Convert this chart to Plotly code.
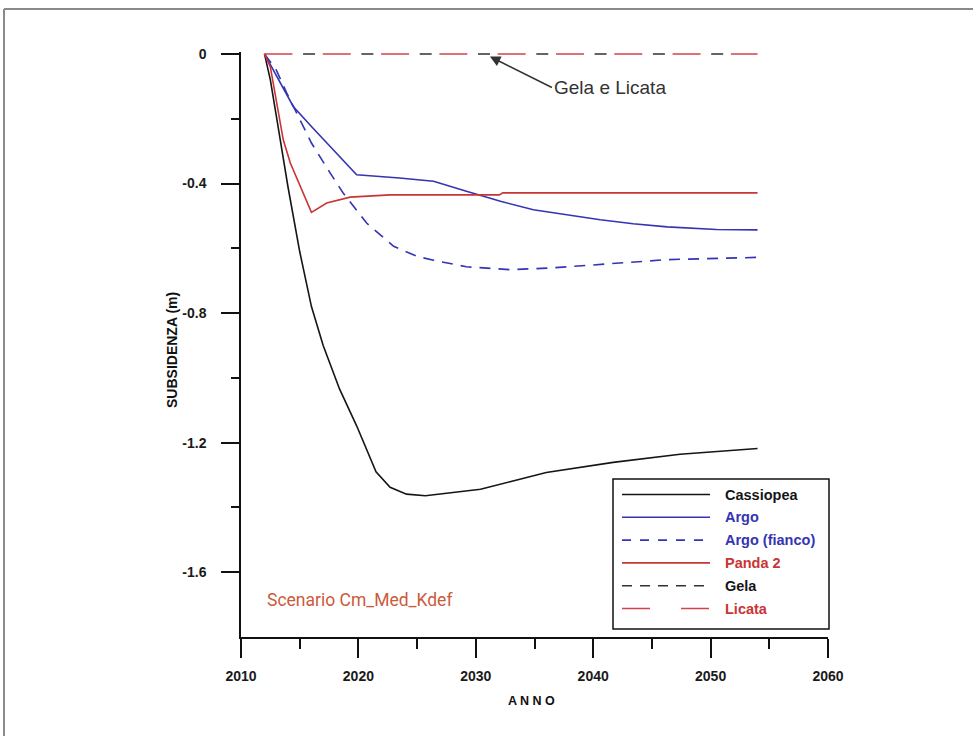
import plotly.graph_objects as go

# ---------------- data ----------------
cass_years = [2012, 2012.5, 2013, 2014, 2015, 2016, 2017, 2018.4, 2019.85, 2021.5, 2022.7,
              2024.1, 2025.7, 2027.5, 2030.4, 2033, 2036, 2041.7, 2047.4, 2054]
cass_vals = [0, -0.08, -0.19, -0.41, -0.61, -0.78, -0.90, -1.035, -1.148, -1.29, -1.338,
             -1.359, -1.364, -1.357, -1.344, -1.32, -1.292, -1.261, -1.236, -1.218]

argo_years = [2012, 2012.6, 2014.45, 2016, 2017.6, 2019.85, 2023.5, 2026.4, 2029.2, 2032.1,
              2034.9, 2037.7, 2040.6, 2043.4, 2046.3, 2050.5, 2054]
argo_vals = [0, -0.04, -0.162, -0.224, -0.286, -0.373, -0.383, -0.393, -0.424, -0.455,
             -0.481, -0.496, -0.512, -0.524, -0.534, -0.542, -0.543]

fianco_years = [2012, 2013, 2013.9, 2015.2, 2016, 2017.6, 2018.7, 2020.7, 2023, 2025, 2026.4,
                2029.2, 2032.9, 2036.3, 2040.6, 2046.3, 2054]
fianco_vals = [0, -0.049, -0.121, -0.214, -0.275, -0.368, -0.429, -0.522, -0.594, -0.625, -0.637,
               -0.657, -0.666, -0.661, -0.650, -0.635, -0.628]

panda_years = [2012, 2012.5, 2013.6, 2014.2, 2016, 2017.3, 2019.3, 2022.7, 2032, 2032.3, 2054]
panda_vals = [0, -0.04, -0.265, -0.337, -0.489, -0.46, -0.442, -0.435, -0.435, -0.429, -0.429]

gela_years = [2012, 2054]
gela_vals = [0, 0]

licata_years = [2012, 2054]
licata_vals = [0, 0]

series_names = ["Cassiopea", "Argo", "Argo (fianco)", "Panda 2", "Gela", "Licata"]

x_ticks = [2010, 2020, 2030, 2040, 2050, 2060]
x_tick_labels = ["2010", "2020", "2030", "2040", "2050", "2060"]
x_minor = [2015, 2025, 2035, 2045, 2055]
y_ticks = [0, -0.4, -0.8, -1.2, -1.6]
y_tick_labels = ["0", "-0.4", "-0.8", "-1.2", "-1.6"]
y_minor = [-0.2, -0.6, -1.0, -1.4]

# ---------------- styles ----------------
BLACK = "#151515"
BLUE = "#3434b4"
RED = "#c93434"
LRED = "#d2434f"

styles = {
    "Cassiopea": dict(color=BLACK, dash="solid", legdash="solid", txt=BLACK),
    "Argo": dict(color=BLUE, dash="solid", legdash="solid", txt=BLUE),
    "Argo (fianco)": dict(color=BLUE, dash="11px,8px", legdash="9px,9px", txt=BLUE),
    "Panda 2": dict(color=RED, dash="solid", legdash="solid", txt=RED),
    "Gela": dict(color="#333333", dash="0px,38.6px,12px,7.7px", legdash="10px,8px", txt=BLACK),
    "Licata": dict(color=LRED, dash="28px,30.3px", legdash="28px,31px", txt=RED),
}

data = {
    "Cassiopea": (cass_years, cass_vals),
    "Argo": (argo_years, argo_vals),
    "Argo (fianco)": (fianco_years, fianco_vals),
    "Panda 2": (panda_years, panda_vals),
    "Gela": (gela_years, gela_vals),
    "Licata": (licata_years, licata_vals),
}

W_FIG, H_FIG = 973, 736
L, R, T, B = 241, 828, 52, 637
PW, PH = R - L, B - T


def px(x):
    return (x - L) / PW


def py(y):
    return (B - y) / PH


fig = go.Figure()
for name in series_names:
    xs, ys = data[name]
    st = styles[name]
    fig.add_trace(go.Scatter(x=xs, y=ys, mode="lines", name=name,
                             line=dict(color=st["color"], width=1.6, dash=st["dash"]),
                             showlegend=False, hoverinfo="skip"))

shapes = []
annotations = []

# outer frame (top and left edges)
shapes.append(dict(type="line", xref="paper", yref="paper", x0=px(4), x1=px(973), y0=py(9), y1=py(9),
                   line=dict(color="#8a8a8a", width=2)))
shapes.append(dict(type="line", xref="paper", yref="paper", x0=px(4), x1=px(4), y0=py(9), y1=py(736),
                   line=dict(color="#8a8a8a", width=2)))

# custom legend
shapes.append(dict(type="rect", xref="paper", yref="paper", x0=px(613), x1=px(829), y0=py(629), y1=py(479),
                   line=dict(color="#111111", width=1.5), fillcolor="white", layer="above"))
for i, name in enumerate(series_names):
    yy = 494.5 + i * 22.8
    st = styles[name]
    shapes.append(dict(type="line", xref="paper", yref="paper", x0=px(622), x1=px(710), y0=py(yy), y1=py(yy),
                       line=dict(color=st["color"], width=1.6, dash=st["legdash"]), layer="above"))
    annotations.append(dict(xref="paper", yref="paper", x=px(723), y=py(yy), xanchor="left", yanchor="middle",
                            text=name, showarrow=False,
                            font=dict(family="Liberation Sans, Arial", size=14.5, color=st["txt"], weight="bold")))

# axis titles
annotations.append(dict(xref="paper", yref="paper", x=px(172), y=py(350), text="SUBSIDENZA (m)",
                        textangle=-90, showarrow=False, xanchor="center", yanchor="middle",
                        font=dict(family="Liberation Sans, Arial", size=14, color="#111111", weight="bold")))
annotations.append(dict(xref="paper", yref="paper", x=px(531), y=py(701), text="A N N O",
                        showarrow=False, xanchor="center", yanchor="middle",
                        font=dict(family="Liberation Sans, Arial", size=12.5, color="#111111", weight="bold")))

# "Gela e Licata" arrow note
annotations.append(dict(x=2031.2, y=-0.008, xref="x", yref="y", text="Gela e Licata",
                        showarrow=True, arrowhead=2, arrowsize=1.4, arrowwidth=1.5, arrowcolor="#333333",
                        ax=62, ay=31, xanchor="left", yanchor="middle",
                        font=dict(family="Liberation Sans, Arial", size=19, color="#333333")))

# scenario label
annotations.append(dict(xref="paper", yref="paper", x=px(265), y=py(600), text="Scenario Cm_Med_Kdef",
                        showarrow=False, xanchor="left", yanchor="middle",
                        font=dict(family="Roboto, Liberation Sans", size=17.5, color="#cc5a3c")))

axis_font = dict(family="Liberation Sans, Arial", size=14, color="#1a1a1a", weight="bold")

fig.update_layout(
    width=W_FIG, height=H_FIG,
    margin=dict(l=L, r=W_FIG - R, t=T, b=H_FIG - B, pad=0),
    paper_bgcolor="white", plot_bgcolor="white",
    showlegend=False,
    shapes=shapes, annotations=annotations,
    xaxis=dict(range=[2010, 2060], showline=True, linecolor="#111111", linewidth=1.5,
               ticks="outside", ticklen=19, tickwidth=1.5, tickcolor="#111111",
               tickvals=x_ticks, ticktext=x_tick_labels, tickfont=axis_font,
               ticklabelstandoff=6,
               minor=dict(tickvals=x_minor, ticks="outside", ticklen=10, tickwidth=1.5, tickcolor="#111111"),
               showgrid=False, zeroline=False, fixedrange=True),
    yaxis=dict(range=[-1.8, 0.006], showline=True, linecolor="#111111", linewidth=1.5,
               ticks="outside", ticklen=18, tickwidth=1.5, tickcolor="#111111",
               tickvals=y_ticks, ticktext=y_tick_labels, tickfont=axis_font,
               ticklabelstandoff=12,
               minor=dict(tickvals=y_minor, ticks="outside", ticklen=8, tickwidth=1.5, tickcolor="#111111"),
               showgrid=False, zeroline=False, fixedrange=True),
)

fig.write_html("out.html", config={"displayModeBar": False},
               post_script="document.body.style.margin='0px';document.body.style.overflow='hidden';")
